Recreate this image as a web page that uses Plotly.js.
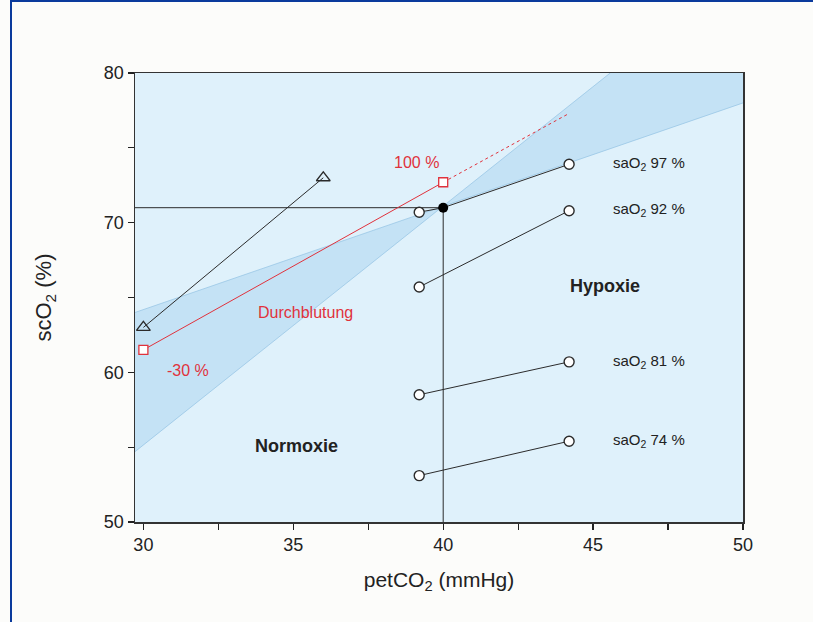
<!DOCTYPE html>
<html><head><meta charset="utf-8">
<script src="https://cdn.plot.ly/plotly-3.0.1.min.js"></script>
<style>
html,body{margin:0;padding:0;background:#fcfcfa;}
#chart{width:813px;height:622px;position:absolute;left:0;top:0;}
#frame{position:absolute;left:10px;top:0;width:803px;height:622px;border-left:2px solid #0a3a9c;border-top:2px solid #0a3a9c;box-sizing:border-box;pointer-events:none;}
</style></head><body>
<div id="chart"></div><div id="frame"></div>
<script>
// Data
const triX = [30, 36];
const triY = [63.0, 73.0];
const flowX = [30, 40];
const flowY = [61.5, 72.7];
const flowExtX = [40, 44.2];
const flowExtY = [72.7, 77.3];
const refX = [29.72, 40, 40];
const refY = [71, 71, 50];
const refPointX = [40];
const refPointY = [71];
const saLabels = ['saO<sub>2</sub> 97 %', 'saO<sub>2</sub> 92 %', 'saO<sub>2</sub> 81 %', 'saO<sub>2</sub> 74 %'];
const saStartX = [39.2, 39.2, 39.2, 39.2];
const saStartY = [70.7, 65.7, 58.5, 53.1];
const saEndX = [44.2, 44.2, 44.2, 44.2];
const saEndY = [73.9, 70.8, 60.7, 55.4];
// band boundary lines
const steepX = [29.72, 45.57];
const steepY = [54.7, 80.0];
const flatX = [29.72, 50];
const flatY = [64.0, 78.0];
// ticks
const xTickVals = [30, 32.5, 35, 37.5, 40, 42.5, 45, 47.5, 50];
const xTickText = ['30', '', '35', '', '40', '', '45', '', '50'];
const yTickVals = [50, 55, 60, 65, 70, 75, 80];
const yTickText = ['50', '', '60', '', '70', '', '80'];

const black = '#2b2b2b';
const red = '#e0323c';
const bandFill = 'rgba(170,212,240,0.5)';
const bandLine = 'rgba(140,190,225,0.8)';

// crossing point of band lines
const sA = (steepY[1]-steepY[0])/(steepX[1]-steepX[0]);
const sB = (flatY[1]-flatY[0])/(flatX[1]-flatX[0]);
const cx = (flatY[0]-steepY[0] + sA*steepX[0] - sB*flatX[0])/(sA-sB);
const cy = steepY[0] + sA*(cx-steepX[0]);

const traces = [];
traces.push({x:[flatX[0], cx, steepX[0], flatX[0]], y:[flatY[0], cy, steepY[0], flatY[0]], mode:'lines', fill:'toself', fillcolor:bandFill, line:{width:0}, hoverinfo:'skip'});
traces.push({x:[cx, steepX[1], flatX[1], flatX[1], cx], y:[cy, steepY[1], 80, flatY[1], cy], mode:'lines', fill:'toself', fillcolor:bandFill, line:{width:0}, hoverinfo:'skip'});
traces.push({x:steepX, y:steepY, mode:'lines', line:{color:bandLine, width:0.8}});
traces.push({x:flatX, y:flatY, mode:'lines', line:{color:bandLine, width:0.8}});
traces.push({x:refX, y:refY, mode:'lines', line:{color:black, width:1}});
traces.push({x:triX, y:triY, mode:'lines+markers', line:{color:black, width:1}, marker:{symbol:'triangle-up-open', size:12, color:black, line:{width:1.3}}});
traces.push({x:flowExtX, y:flowExtY, mode:'lines', line:{color:red, width:1, dash:'dot'}});
traces.push({x:flowX, y:flowY, mode:'lines+markers', line:{color:red, width:1}, marker:{symbol:'square', size:9, color:'#ffffff', line:{color:red, width:1.3}}});
for (let i=0;i<saStartX.length;i++){
  const xs = i===0 ? [saStartX[i], refPointX[0], saEndX[i]] : [saStartX[i], saEndX[i]];
  const ys = i===0 ? [saStartY[i], refPointY[0], saEndY[i]] : [saStartY[i], saEndY[i]];
  traces.push({x:xs, y:ys, mode:'lines', line:{color:black, width:1}});
  traces.push({x:[saStartX[i], saEndX[i]], y:[saStartY[i], saEndY[i]], mode:'markers', marker:{symbol:'circle', size:10, color:'#ffffff', line:{color:black, width:1.4}}});
}
traces.push({x:refPointX, y:refPointY, mode:'markers', marker:{symbol:'circle', size:10, color:'#000000'}});

const fam = 'Liberation Sans, Arial, sans-serif';
const annFont = {family:fam, size:15, color:'#222'};
const annotations = [];
for (let i=0;i<saLabels.length;i++){
  annotations.push({x:45.6, y:saEndY[i]+0.05, text:saLabels[i], showarrow:false, xanchor:'left', yanchor:'middle', font:annFont});
}
annotations.push({x:39.1, y:74.0, text:'100 %', showarrow:false, font:{family:fam, size:16, color:red}});
annotations.push({x:35.4, y:64.0, text:'Durchblutung', showarrow:false, font:{family:fam, size:16, color:red}});
annotations.push({x:31.5, y:60.1, text:'-30 %', showarrow:false, font:{family:fam, size:16, color:red}});
annotations.push({x:45.4, y:65.8, text:'<b>Hypoxie</b>', showarrow:false, font:{family:fam, size:18, color:'#222'}});
annotations.push({x:35.1, y:55.1, text:'<b>Normoxie</b>', showarrow:false, font:{family:fam, size:18, color:'#222'}});

const tickFont = {family:fam, size:18, color:'#222'};
const titleFont = {family:fam, size:21, color:'#222'};
const layout = {
  width:813, height:622,
  margin:{l:135, r:70, t:73, b:100},
  paper_bgcolor:'rgba(0,0,0,0)',
  plot_bgcolor:'#dff1fb',
  showlegend:false,
  font:tickFont,
  xaxis:{range:[29.72,50], tickmode:'array', tickvals:xTickVals, ticktext:xTickText, ticks:'outside', ticklen:6, tickwidth:1.2, tickcolor:'#222', showgrid:false, zeroline:false, showline:true, linecolor:'#333', linewidth:1.5, mirror:true, tickfont:tickFont,
    title:{text:'petCO<sub>2</sub> (mmHg)', font:titleFont, standoff:18}},
  yaxis:{range:[50,80], tickmode:'array', tickvals:yTickVals, ticktext:yTickText, ticks:'outside', ticklen:6, tickwidth:1.2, tickcolor:'#222', showgrid:false, zeroline:false, showline:true, linecolor:'#333', linewidth:1.5, mirror:true, tickfont:tickFont,
    title:{text:'scO<sub>2</sub> (%)', font:{family:fam, size:22, color:'#222'}, standoff:46}},
  annotations:annotations
};
Plotly.newPlot('chart', traces, layout, {displayModeBar:false, staticPlot:true});
</script></body></html>
